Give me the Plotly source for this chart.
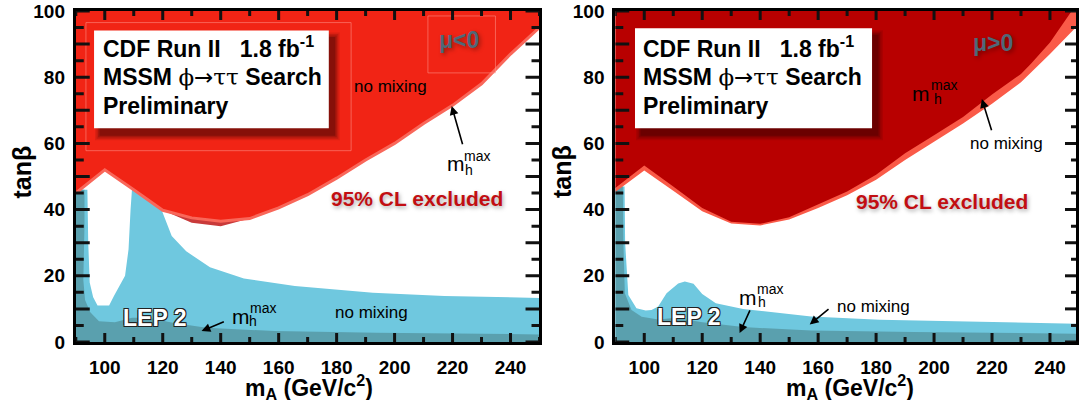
import plotly.graph_objects as go

# ---------------- data: left panel (mu < 0) ----------------
L_red_x = [90, 100, 110, 120, 130, 140, 150, 160, 170, 180, 190, 200, 210, 220, 230, 240, 250]
L_red_y = [45, 52, 46, 39.8, 37.5, 36.5, 37.3, 40.5, 44.5, 49.5, 55, 60, 66, 71.5, 78, 87, 95]
L_mh_x = [120, 130, 140, 150]
L_mh_y = [39.8, 36, 35, 37.3]
L_nm_x = [90, 94, 94.3, 94.8, 96, 97.5, 101.5, 103.2, 107, 108.2, 108.9, 109.7, 116, 119.6,
          123.1, 128.1, 136.3, 148, 165.6, 192.5, 217.2, 250]
L_nm_y = [46, 46, 30, 18, 13.5, 11, 11, 14, 20, 28, 40, 50, 48, 39.6,
          32, 27.4, 22.6, 19.2, 16.9, 14.9, 13.9, 13.3]
L_lep_x = [90, 93, 93, 92.6, 93.2, 95, 98, 103.5, 109.4, 115.2, 123.4, 135.1, 158.6, 193.7, 250]
L_lep_y = [46, 46, 35, 18.7, 12.7, 9, 6.3, 6.0, 7.3, 7.3, 5.8, 4.3, 3.3, 2.8, 2.3]

# ---------------- data: right panel (mu > 0) ----------------
R_mx_x = [90, 100, 110, 120, 130, 140, 150, 160, 170, 180, 190, 200, 210, 220, 230, 233.6, 240, 247.5]
R_mx_y = [46.5, 53.3, 47, 40.5, 36.3, 35.7, 37.7, 41.5, 45.5, 50.5, 57, 62.5, 68, 74.8, 81, 84.2, 90.5, 100]
R_nm_x = [90, 100, 110, 120, 130, 140, 150, 160, 170, 180, 190, 200, 210, 220, 230, 240, 250]
R_nm_y = [45.3, 51.8, 45.7, 39.5, 35.8, 35.2, 37, 40.5, 44.3, 49, 55, 60.5, 66, 72, 78.5, 87, 96]
R_bl_x = [90, 93.2, 93.4, 94.5, 97.3, 100.5, 102.5, 104.8, 107.7, 111.7, 114, 117, 120, 124.7,
          134.1, 157.6, 181.2, 216.5, 250]
R_bl_y = [47, 47, 30, 14.2, 10.2, 9.5, 9.7, 10.7, 14.7, 17.7, 18.3, 17.6, 14.5, 11.7,
          10, 7.7, 6.7, 6, 5.5]
R_lep_x = [90, 92.6, 92.8, 93.3, 95.6, 99.1, 104.8, 110.9, 120, 134.1, 157.6, 193, 250]
R_lep_y = [47, 47, 30, 14.7, 9.7, 7.6, 6.8, 7.3, 6, 4.5, 3.5, 3, 2.5]

# ---------------- ticks ----------------
x_tickvals = [100, 120, 140, 160, 180, 200, 220, 240]
x_ticktext = ["100", "120", "140", "160", "180", "200", "220", "240"]
x_minorvals = [90, 110, 130, 150, 170, 190, 210, 230, 250]
y_tickvals = [0, 10, 20, 30, 40, 50, 60, 70, 80, 90, 100]
y_ticktext = ["0", "", "20", "", "40", "", "60", "", "80", "", "100"]
y_minorvals = [5, 15, 25, 35, 45, 55, 65, 75, 85, 95]

# colours
C_RED = "#f12415"
C_RED_EDGE = "#f9675a"
C_RED_DARKBAND = "#c93a3a"
C_DKRED = "#b80000"
C_SALMON = "#fa5a48"
C_BLUE = "#6fc8df"
C_TEAL = "#5aa0ae"

X_LO, X_HI, Y_LO, Y_HI = 90, 250, 0, 100
PXG = 2.906  # px per GeV
PXU = 3.31   # px per unit tan beta

fig = go.Figure()
shapes = []
annotations = []


def under(x, y):
    return list(x) + [x[-1], x[0]], list(y) + [Y_LO, Y_LO]


def over(x, y):
    return list(x) + [x[-1], x[0]], list(y) + [Y_HI, Y_HI]


def add_fill(x, y, color, xa, ya):
    fig.add_trace(go.Scatter(x=x, y=y, fill="toself", fillcolor=color, mode="lines",
                             line=dict(width=0, color=color), hoverinfo="skip",
                             showlegend=False, xaxis=xa, yaxis=ya))


def add_ticks(xr, yr):
    def seg(x0, y0, x1, y1):
        shapes.append(dict(type="line", xref=xr, yref=yr, x0=x0, y0=y0, x1=x1, y1=y1,
                           line=dict(color="#111111", width=3), layer="above"))
    for vals, ln in [(y_tickvals, 14), (y_minorvals, 8)]:
        d = ln / PXG
        for v in vals:
            seg(X_LO, v, X_LO + d, v)
            seg(X_HI - d, v, X_HI, v)
    for vals, ln in [(x_tickvals, 9), (x_minorvals, 5)]:
        d = ln / PXU
        for v in vals:
            seg(v, Y_LO, v, Y_LO + d)
            seg(v, Y_HI - d, v, Y_HI)


# left panel
px_, py_ = under(L_nm_x, L_nm_y); add_fill(px_, py_, C_BLUE, "x", "y")
px_, py_ = under(L_lep_x, L_lep_y); add_fill(px_, py_, C_TEAL, "x", "y")
add_fill(L_mh_x + L_mh_x[::-1], L_mh_y + [L_red_y[L_red_x.index(v)] for v in L_mh_x[::-1]],
         C_RED_DARKBAND, "x", "y")
px_, py_ = over(L_red_x, L_red_y); add_fill(px_, py_, C_RED, "x", "y")
fig.add_trace(go.Scatter(x=L_red_x, y=L_red_y, mode="lines", line=dict(color=C_RED_EDGE, width=3),
                         hoverinfo="skip", showlegend=False, xaxis="x", yaxis="y"))

# right panel
px_, py_ = under(R_bl_x, R_bl_y); add_fill(px_, py_, C_BLUE, "x2", "y2")
px_, py_ = under(R_lep_x, R_lep_y); add_fill(px_, py_, C_TEAL, "x2", "y2")
px_, py_ = over(R_nm_x, R_nm_y); add_fill(px_, py_, C_SALMON, "x2", "y2")
px_, py_ = over(R_mx_x, R_mx_y); add_fill(px_, py_, C_DKRED, "x2", "y2")

W, H = 1079, 400
L_DOM = [76 / W, 541 / W]
R_DOM = [617 / W, 1.0]
R_XHI = 90 + 462 / PXG

FONT = "Liberation Sans, Arial, sans-serif"
tickfont = dict(family=FONT, size=19, color="black", weight="bold")


def xaxis(domain, rng, anchor):
    return dict(domain=domain, range=rng, anchor=anchor, showgrid=False, zeroline=False,
                showline=True, linecolor="black", linewidth=3, mirror=True,
                tickmode="array", ticks="", tickvals=x_tickvals, ticktext=x_ticktext,
                tickfont=tickfont, ticklabelstandoff=6, layer="above traces")


def yaxis(rng, anchor):
    return dict(domain=[0, 1], range=rng, anchor=anchor, showgrid=False, zeroline=False,
                showline=True, linecolor="black", linewidth=3, mirror=True,
                tickmode="array", ticks="", tickvals=y_tickvals, ticktext=y_ticktext,
                tickfont=tickfont, ticklabelstandoff=4, layer="above traces")


def box(xr, yr, x0, x1, y0, y1):
    dx, dy = 6 / PXG, -7 / PXU
    for e, op in [(5, 0.10), (3.5, 0.14), (2, 0.18), (0.5, 0.25)]:
        ex, ey = e / PXG, e / PXU
        shapes.append(dict(type="rect", xref=xr, yref=yr, x0=x0 + dx - ex, x1=x1 + dx + ex,
                           y0=y0 + dy - ey, y1=y1 + dy + ey, line=dict(width=0),
                           fillcolor=f"rgba(40,0,0,{op})", layer="above"))
    shapes.append(dict(type="rect", xref=xr, yref=yr, x0=x0, x1=x1, y0=y0, y1=y1,
                       line=dict(width=0), fillcolor="white", layer="above"))


def box_text(xr, yr, x, ys):
    lines = ["CDF Run II\u00a0\u00a0\u00a01.8 fb<sup>-1</sup>",
             "MSSM <span style='font-family:DejaVu Serif;font-weight:normal'>\u03d5</span>"
             "<span style='font-family:DejaVu Sans;font-weight:normal'>\u2192</span>"
             "<span style='font-family:DejaVu Serif;font-weight:normal'>\u03c4\u03c4</span> Search",
             "Preliminary"]
    for t, y in zip(lines, ys):
        annotations.append(dict(xref=xr, yref=yr, x=x, y=y, text=t, showarrow=False,
                                xanchor="left", yanchor="middle",
                                font=dict(family=FONT, size=23, color="black", weight="bold")))


def txt(xr, yr, x, y, t, size, color="black", weight="normal", shadow=None):
    f = dict(family=FONT, size=size, color=color, weight=weight)
    if shadow:
        f["shadow"] = shadow
    annotations.append(dict(xref=xr, yref=yr, x=x, y=y, text=t, showarrow=False,
                            xanchor="center", yanchor="middle", font=f))


def mhmax(xr, yr, xm, ym, xmax, ymax, xh, yh):
    txt(xr, yr, xm, ym, "m", 21)
    txt(xr, yr, xmax, ymax, "max", 14)
    txt(xr, yr, xh, yh, "h", 14)


def arrow(xr, yr, tx, ty, hx, hy):
    annotations.append(dict(xref=xr, yref=yr, axref=xr, ayref=yr, x=hx, y=hy, ax=tx, ay=ty,
                            text="", showarrow=True, arrowhead=2, arrowsize=1.1,
                            arrowwidth=1.6, arrowcolor="black"))


LEP_SHADOW = "-1px -1px 0 #222, 1px -1px 0 #222, -1px 1px 0 #222, 1px 1px 0 #222, 0 1px 0 #222, 0 -1px 0 #222"
CL_SHADOW = "1px 2px 4px rgba(0,0,0,0.35)"
MU_SHADOW = "2px 2px 4px rgba(0,0,0,0.35)"

# faint artifact outlines in left panel
for (a, b, c, d) in [(93.5, 185, 57.8, 96.5), (211.5, 234.8, 81.3, 98.5)]:
    shapes.append(dict(type="rect", xref="x", yref="y", x0=a, x1=b, y0=c, y1=d,
                       line=dict(width=1, color="rgba(255,150,140,0.55)"), layer="above"))

add_ticks("x", "y")
add_ticks("x2", "y2")

# left panel annotations
box("x", "y", 96.3, 177.3, 64.6, 94.1)
box_text("x", "y", 98.6, [89.0, 80.0, 71.2])
txt("x", "y", 222.1, 91.2, "\u03bc<0", 23, "#4f6878", "bold", MU_SHADOW)
txt("x", "y", 198.6, 77.1, "no mixing", 17)
mhmax("x", "y", 221.3, 53.9, 228.5, 56.2, 225.7, 52.0)
arrow("x", "y", 223.6, 59.3, 219.7, 71.3)
txt("x", "y", 207.8, 43.3, "95% CL excluded", 21, "#c20e12", "bold", CL_SHADOW)
txt("x", "y", 117.2, 7.3, "LEP 2", 23, "white", "bold", LEP_SHADOW)
mhmax("x", "y", 146.9, 7.8, 154.5, 10.4, 151.0, 6.3)
arrow("x", "y", 141.6, 6.3, 133.4, 3.3)
txt("x", "y", 192.2, 8.8, "no mixing", 17)

# right panel annotations
box("x2", "y2", 96.8, 178.6, 64.6, 94.8)
box_text("x2", "y2", 98.8, [89.1, 80.0, 71.2])
txt("x2", "y2", 220.2, 90.4, "\u03bc>0", 23, "#4f6878", "bold", MU_SHADOW)
mhmax("x2", "y2", 195.5, 75.2, 203.3, 77.7, 201.2, 73.4)
arrow("x2", "y2", 220.0, 63.5, 216.5, 73.4)
txt("x2", "y2", 224.9, 59.9, "no mixing", 17)
txt("x2", "y2", 202.6, 42.3, "95% CL excluded", 21, "#c20e12", "bold", CL_SHADOW)
txt("x2", "y2", 115.5, 7.5, "LEP 2", 23, "white", "bold", LEP_SHADOW)
mhmax("x2", "y2", 135.9, 13.3, 143.4, 16.1, 140.6, 12.0)
arrow("x2", "y2", 136.7, 10.0, 132.9, 2.7)
txt("x2", "y2", 179.1, 10.7, "no mixing", 17)
arrow("x2", "y2", 164.1, 10.3, 157.1, 5.3)

# axis titles
TFONT = dict(family=FONT, size=23, color="black", weight="bold")
for xp in [22 / W, 563 / W]:
    annotations.append(dict(xref="paper", yref="paper", x=xp, y=0.515, text="tan\u03b2",
                            textangle=-90, showarrow=False, xanchor="center", yanchor="middle",
                            font=dict(family=FONT, size=25, color="black", weight="bold")))
for xp in [310 / W, 852 / W]:
    annotations.append(dict(xref="paper", yref="paper", x=xp, y=-0.135,
                            text="m<sub>A</sub> (GeV/c<sup>2</sup>)", showarrow=False,
                            xanchor="center", yanchor="middle", font=TFONT))

fig.update_layout(
    width=W, height=H, margin=dict(l=0, r=0, t=11, b=58),
    paper_bgcolor="white", plot_bgcolor="white",
    xaxis=xaxis(L_DOM, [X_LO, X_HI], "y"),
    yaxis=yaxis([Y_LO, Y_HI], "x"),
    xaxis2=xaxis(R_DOM, [X_LO, R_XHI], "y2"),
    yaxis2=yaxis([Y_LO, Y_HI], "x2"),
    shapes=shapes, annotations=annotations, showlegend=False,
)

fig.write_html("out.html", config={"displayModeBar": False},
               post_script="document.body.style.margin='0';document.body.style.overflow='hidden';")
